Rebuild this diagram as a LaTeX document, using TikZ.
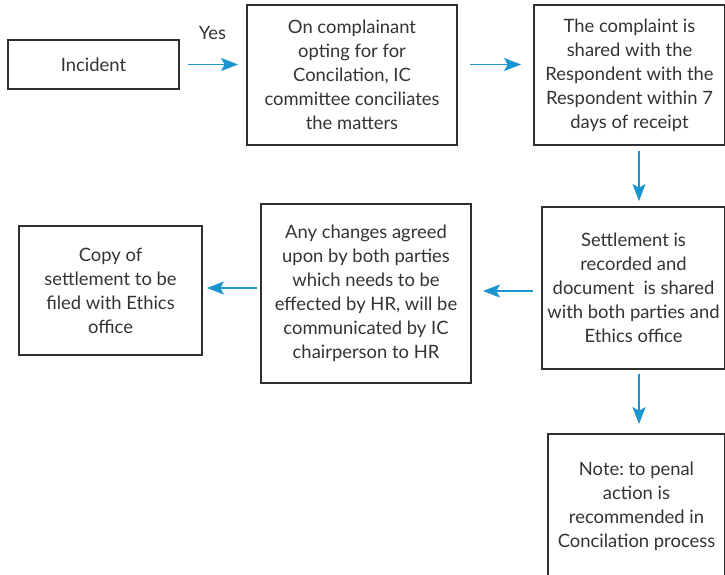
\documentclass[tikz,border=0pt]{standalone}
\usepackage{fontspec}
\setmainfont{Lato}
\usetikzlibrary{arrows.meta}
\definecolor{boxline}{HTML}{2E2E2E}
\definecolor{txt}{HTML}{333333}
\definecolor{arrblue}{HTML}{1B95CF}
\frenchspacing
\begin{document}
\begin{tikzpicture}[x=1pt,y=1pt,
  flowbox/.style={draw=boxline,line width=1.8pt,inner sep=0pt,align=center,text=txt,
    font=\fontsize{18.4}{24}\selectfont},
  arr/.style={draw=arrblue,line width=1.8pt,-{Stealth[length=17pt,width=13pt,inset=3.5pt]}},
  lbl/.style={text=txt,inner sep=0pt,font=\fontsize{18.4}{24}\selectfont}]
\useasboundingbox (0,0) rectangle (725,-574);
\node[flowbox,minimum width=171pt,minimum height=49pt] (inc) at (93.5,-64.5) {Incident};
\node[flowbox,minimum width=210pt,minimum height=140pt] (b2) at (352,-75)
  {On complainant\\opting for for\\Concilation, IC\\committee conciliates\\the matters};
\node[flowbox,minimum width=191pt,minimum height=140pt] (b3) at (629.5,-75)
  {The complaint is\\shared with the\\Respondent with the\\Respondent within 7\\days of receipt};
\node[flowbox,minimum width=183pt,minimum height=162pt] (b4) at (633.5,-288)
  {Settlement is\\recorded and\\document\ \ is shared\\with both parties and\\Ethics office};
\node[flowbox,minimum width=177pt,minimum height=144pt] (b5) at (636.5,-506)
  {Note: to penal\\action is\\recommended in\\Concilation process};
\node[flowbox,minimum width=210pt,minimum height=179pt] (b6) at (366,-293.5)
  {Any changes agreed\\upon by both parties\\which needs to be\\effected by HR, will be\\communicated by IC\\chairperson to HR};
\node[flowbox,minimum width=183pt,minimum height=129pt] (b7) at (110.5,-290.5)
  {Copy of\\settlement to be\\filed with Ethics\\office};
\node[lbl] (yes) at (212.5,-33) {Yes};
\draw[arr,shorten <=8pt,shorten >=8pt] (inc.east) -- (b2.west |- inc.east);
\draw[arr,shorten <=12pt,shorten >=12pt] (b2.east |- inc.east) -- (b3.west |- inc.east);
\draw[arr,shorten <=5pt,shorten >=5pt] ([xshift=9.5pt]b3.south) -- ([xshift=5.5pt]b4.north);
\draw[arr,shorten <=4pt,shorten >=9pt] ([xshift=5.5pt]b4.south) -- ([xshift=2.5pt]b5.north);
\draw[arr,shorten <=8pt,shorten >=11pt] (b4.west |- 0,-291) -- (b6.east |- 0,-291);
\draw[arr,shorten <=3pt,shorten >=4pt] (b6.west |- 0,-288) -- (b7.east |- 0,-288);
\end{tikzpicture}
\end{document}
